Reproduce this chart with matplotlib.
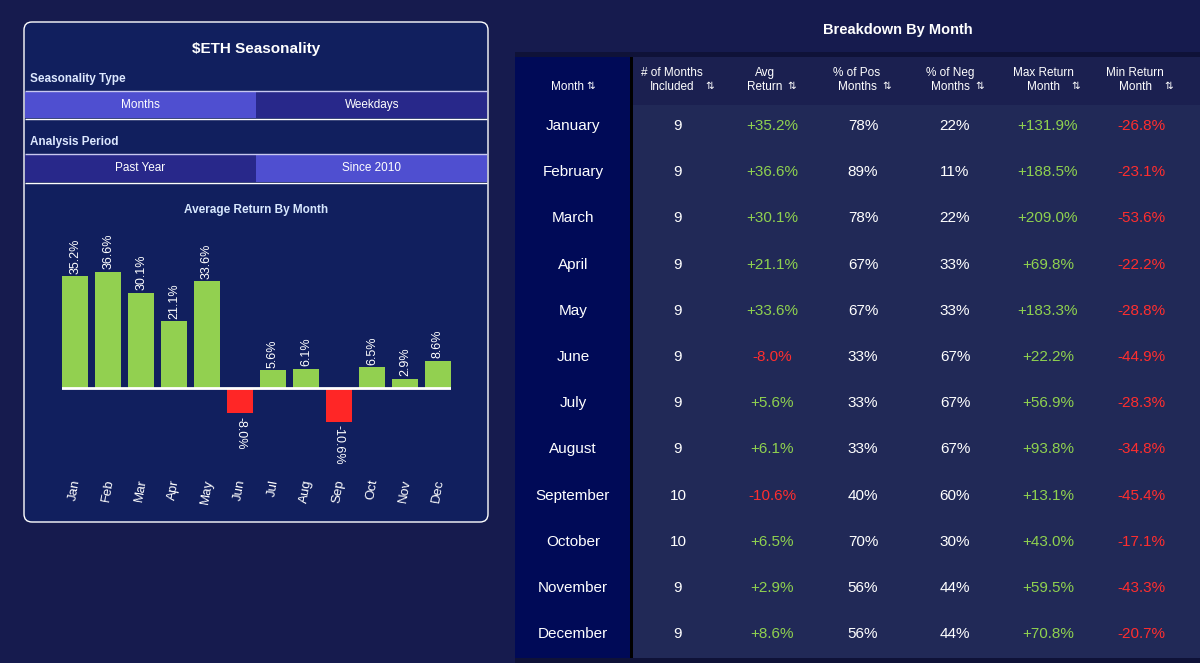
import matplotlib
matplotlib.use("Agg")
import matplotlib.pyplot as plt
from matplotlib.patches import Rectangle, FancyBboxPatch

plt.rcParams['font.family'] = ['Liberation Sans', 'DejaVu Sans']

# ---- data ----
month_abbr = ["Jan", "Feb", "Mar", "Apr", "May", "Jun",
              "Jul", "Aug", "Sep", "Oct", "Nov", "Dec"]
month_names = ["January", "February", "March", "April", "May", "June",
               "July", "August", "September", "October", "November", "December"]
avg_return = [35.2, 36.6, 30.1, 21.1, 33.6, -8.0, 5.6, 6.1, -10.6, 6.5, 2.9, 8.6]
months_included = [9, 9, 9, 9, 9, 9, 9, 9, 10, 10, 9, 9]
pct_pos = [78, 89, 78, 67, 67, 33, 33, 33, 40, 70, 56, 56]
pct_neg = [22, 11, 22, 33, 33, 67, 67, 67, 60, 30, 44, 44]
max_return = [131.9, 188.5, 209.0, 69.8, 183.3, 22.2, 56.9, 93.8, 13.1, 43.0, 59.5, 70.8]
min_return = [-26.8, -23.1, -53.6, -22.2, -28.8, -44.9, -28.3, -34.8, -45.4, -17.1, -43.3, -20.7]

# ---- colours ----
BG = "#161b4e"
PANEL = "#111f5e"
BTN_ON = "#4f4fd0"
BTN_OFF = "#28288a"
MONTH_COL = "#000a57"
HEADER = "#1b2050"
BODY = "#212957"
GREEN = "#92d050"
RED = "#ff2626"
TXT_GREEN = "#8fd14f"
TXT_RED = "#ff2e2e"
W, H = 1200, 663

fig = plt.figure(figsize=(12, 6.63), dpi=100, facecolor=BG)

# background axes in pixel coordinates (y down)
bg = fig.add_axes([0, 0, 1, 1])
bg.set_xlim(0, W)
bg.set_ylim(H, 0)
bg.axis('off')
bg.set_facecolor(BG)


def rect(x0, y0, x1, y1, color, **kw):
    bg.add_patch(Rectangle((x0, y0), x1 - x0, y1 - y0, facecolor=color,
                           edgecolor='none', **kw))


def hline(y, x0, x1, color="white", lw=1.2):
    bg.plot([x0, x1], [y, y], color=color, lw=lw, solid_capstyle='butt')


# ---- left panel ----
bg.add_patch(FancyBboxPatch((24, 22), 464, 500,
                            boxstyle="round,pad=0,rounding_size=8",
                            facecolor=PANEL, edgecolor="white", lw=1.0))
bg.text(256, 49, r"\$ETH Seasonality", color="white", fontsize=11,
        fontweight='bold', ha='center', va='center')

bg.text(30, 79, "Seasonality Type", color="#dde8ff", fontsize=8.5,
        fontweight='bold', ha='left', va='center')
hline(91, 25, 487, "#c8c8f0", 1.0)
rect(25, 92, 256, 118, BTN_ON)
rect(256, 92, 487, 118, BTN_OFF)
bg.text(140, 105, "Months", color="white", fontsize=8.5, ha='center', va='center')
bg.text(372, 105, "Weekdays", color="white", fontsize=8.5, ha='center', va='center')
hline(119, 25, 487, "white", 1.0)

bg.text(30, 142, "Analysis Period", color="#dde8ff", fontsize=8.5,
        fontweight='bold', ha='left', va='center')
hline(154, 25, 487, "#c8c8f0", 1.0)
rect(25, 155, 256, 182, BTN_OFF)
rect(256, 155, 487, 182, BTN_ON)
bg.text(140, 168, "Past Year", color="white", fontsize=8.5, ha='center', va='center')
bg.text(372, 168, "Since 2010", color="white", fontsize=8.5, ha='center', va='center')
hline(183, 25, 487, "white", 1.0)

bg.text(256, 210, "Average Return By Month", color="#d8e8ff", fontsize=8.5,
        fontweight='bold', ha='center', va='center')

# ---- bar chart ----
ax_l, ax_r, ax_t, ax_b = 62, 451, 230, 470
ax = fig.add_axes([ax_l / W, 1 - ax_b / H, (ax_r - ax_l) / W, (ax_b - ax_t) / H])
ax.set_facecolor('none')
px_per_unit = 3.17
ax.set_ylim(-(ax_b - 388) / px_per_unit, (388 - ax_t) / px_per_unit)
ax.set_xlim(-0.4, 11.4)
xs = list(range(len(month_abbr)))
colors = [GREEN if v >= 0 else RED for v in avg_return]
ax.bar(xs, avg_return, width=0.78, color=colors, zorder=2)
ax.axhline(0, color="white", lw=2, zorder=3)
for x, v in zip(xs, avg_return):
    if v >= 0:
        ax.text(x, v + 0.8, f"{v:.1f}%", rotation=90, color="white",
                fontsize=9, ha='center', va='bottom')
    else:
        ax.text(x, v - 1.2, f"{v:.1f}%", rotation=-90, color="white",
                fontsize=9, ha='center', va='top')
ax.set_xticks(xs)
ax.set_xticklabels(month_abbr, rotation=80, color="white", fontsize=9.5)
ax.tick_params(axis='x', length=0, pad=6)
ax.set_yticks([])
for s in ax.spines.values():
    s.set_visible(False)

# ---- table ----
bg.text(898, 30, "Breakdown By Month", color="white", fontsize=10.5,
        fontweight='bold', ha='center', va='center')

tx0, tx1, ty0, ty1 = 515, 1200, 57, 658
head_bottom = 105
rect(tx0, ty0 - 5, tx1, ty0, "#0f1238")
rect(633, ty0, tx1, head_bottom, HEADER)
rect(633, head_bottom, tx1, ty1, BODY)
rect(tx0, ty0, 630, ty1, MONTH_COL)
rect(630, ty0, 633, ty1, "#000000")
rect(tx0, ty1, tx1, ty1 + 5, "#0f1238")

arrow = "⇅"
hfs = 8.5
bg.text(567, 87, "Month", color="white", fontsize=hfs, ha='center', va='center')
bg.text(591, 86, arrow, color="white", fontsize=7.5, ha='center', va='center',
        family=['DejaVu Sans'])

headers = [
    ("# of Months", "Included", 672, 710),
    ("Avg", "Return", 765, 792),
    ("% of Pos", "Months", 857, 887),
    ("% of Neg", "Months", 950, 980),
    ("Max Return", "Month", 1043, 1076),
    ("Min Return", "Month", 1135, 1169),
]
for l1, l2, cx, arx in headers:
    bg.text(cx, 73, l1, color="white", fontsize=hfs, ha='center', va='center')
    bg.text(cx, 87, l2, color="white", fontsize=hfs, ha='center', va='center')
    bg.text(arx, 86, arrow, color="white", fontsize=7.5, ha='center',
            va='center', family=['DejaVu Sans'])

col_x = [678, 772, 863, 955, 1048, 1141]
row_y0, row_step = 126, 46.2
bfs = 11
for i, name in enumerate(month_names):
    y = row_y0 + i * row_step
    bg.text(573, y, name, color="white", fontsize=bfs, ha='center', va='center')
    bg.text(col_x[0], y, str(months_included[i]), color="white", fontsize=bfs,
            ha='center', va='center')
    v = avg_return[i]
    bg.text(col_x[1], y, f"{v:+.1f}%", color=TXT_GREEN if v >= 0 else TXT_RED,
            fontsize=bfs, ha='center', va='center')
    bg.text(col_x[2], y, f"{pct_pos[i]}%", color="white", fontsize=bfs,
            ha='center', va='center')
    bg.text(col_x[3], y, f"{pct_neg[i]}%", color="white", fontsize=bfs,
            ha='center', va='center')
    bg.text(col_x[4], y, f"{max_return[i]:+.1f}%", color=TXT_GREEN, fontsize=bfs,
            ha='center', va='center')
    bg.text(col_x[5], y, f"{min_return[i]:.1f}%", color=TXT_RED, fontsize=bfs,
            ha='center', va='center')

fig.savefig("out.png", dpi=100, facecolor=BG)
